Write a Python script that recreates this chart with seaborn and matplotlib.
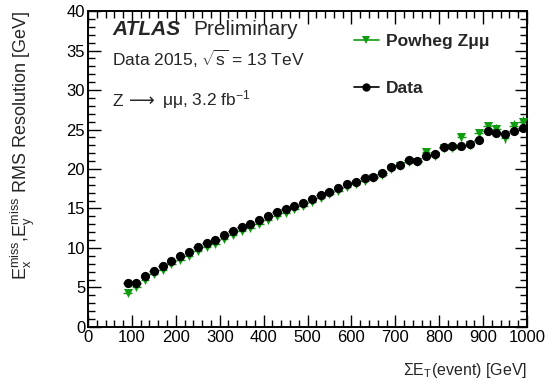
import numpy as np
import pandas as pd
import matplotlib
matplotlib.use("Agg")
import matplotlib.pyplot as plt
from matplotlib.lines import Line2D
from matplotlib.ticker import MultipleLocator
import seaborn as sns

# ---- data ----
sumet = [90, 110, 130, 150, 170, 190, 210, 230, 250, 270, 290, 310, 330, 350, 370,
         390, 410, 430, 450, 470, 490, 510, 530, 550, 570, 590, 610, 630, 650, 670,
         690, 710, 730, 750, 770, 790, 810, 830, 850, 870, 890, 910, 930, 950, 970, 990]
data_res = [5.55, 5.55, 6.45, 7.15, 7.7, 8.4, 9.0, 9.5, 10.1, 10.6, 11.05, 11.6, 12.15,
            12.6, 13.0, 13.5, 14.05, 14.5, 14.9, 15.3, 15.75, 16.25, 16.7, 17.15, 17.55,
            18.1, 18.4, 18.8, 19.05, 19.55, 20.25, 20.5, 21.1, 21.05, 21.7, 21.85, 22.8,
            22.9, 22.9, 23.15, 23.7, 24.75, 24.6, 24.45, 24.85, 25.2]
data_err = [0.15, 0.12, 0.1, 0.1, 0.1, 0.1, 0.1, 0.1, 0.1, 0.1, 0.1, 0.1, 0.1, 0.1, 0.1,
            0.1, 0.1, 0.12, 0.12, 0.12, 0.12, 0.13, 0.13, 0.14, 0.14, 0.15, 0.15, 0.16,
            0.16, 0.17, 0.18, 0.19, 0.2, 0.2, 0.21, 0.22, 0.23, 0.24, 0.25, 0.26, 0.27,
            0.28, 0.29, 0.3, 0.31, 0.32]
mc_res = [4.35, 5.1, 5.9, 6.7, 7.25, 7.95, 8.5, 9.05, 9.6, 10.1, 10.55, 11.1, 11.65,
          12.1, 12.55, 13.05, 13.6, 14.05, 14.45, 14.9, 15.35, 15.85, 16.3, 16.8, 17.2,
          17.75, 18.1, 18.5, 18.8, 19.3, 20.0, 20.4, 20.9, 20.9, 22.1, 21.7, 22.6, 22.7,
          24.1, 23.0, 24.5, 25.4, 25.1, 23.9, 25.5, 26.0]
mc_err = [0.3, 0.25, 0.2, 0.2, 0.2, 0.2, 0.2, 0.2, 0.2, 0.2, 0.2, 0.2, 0.22, 0.22, 0.22,
          0.22, 0.24, 0.24, 0.25, 0.25, 0.26, 0.27, 0.28, 0.29, 0.3, 0.31, 0.32, 0.33,
          0.34, 0.35, 0.36, 0.37, 0.38, 0.4, 0.42, 0.44, 0.46, 0.48, 0.5, 0.52, 0.55,
          0.58, 0.6, 0.62, 0.65, 0.7]
bin_half = 10

GREEN = "#109c10"

sns.set_theme(style="ticks")
plt.rcParams["font.family"] = ["Liberation Sans", "DejaVu Sans"]
plt.rcParams["mathtext.fontset"] = "custom"
plt.rcParams["mathtext.rm"] = "Liberation Sans"
plt.rcParams["mathtext.it"] = "Liberation Sans:italic"
plt.rcParams["mathtext.bf"] = "Liberation Sans:bold"

df = pd.concat([
    pd.DataFrame({"x": sumet, "y": mc_res, "s": "Powheg"}),
    pd.DataFrame({"x": sumet, "y": data_res, "s": "Data"}),
])

fig = plt.figure(figsize=(5.49, 3.89), dpi=100)
ax = fig.add_axes([0.1603, 0.1594, 0.7997, 0.8123])

ax.errorbar(sumet, mc_res, yerr=mc_err, xerr=bin_half, fmt="none",
            ecolor=GREEN, elinewidth=1.0, capsize=0, zorder=2)
sns.scatterplot(data=df[df.s == "Powheg"], x="x", y="y", ax=ax, marker="v",
                color=GREEN, s=42, edgecolor=GREEN, linewidth=0, legend=False, zorder=3)
ax.errorbar(sumet, data_res, yerr=data_err, xerr=bin_half, fmt="none",
            ecolor="black", elinewidth=1.0, capsize=0, zorder=4)
sns.scatterplot(data=df[df.s == "Data"], x="x", y="y", ax=ax, marker="o",
                color="black", s=44, edgecolor="black", linewidth=0, legend=False, zorder=5)

ax.set_xlim(0, 1000)
ax.set_ylim(0, 40)
ax.xaxis.set_major_locator(MultipleLocator(100))
ax.xaxis.set_minor_locator(MultipleLocator(20))
ax.yaxis.set_major_locator(MultipleLocator(5))
ax.yaxis.set_minor_locator(MultipleLocator(1))
ax.tick_params(which="both", direction="in", top=True, right=True, width=1.0,
               labelsize=12, colors="black")
ax.tick_params(which="major", length=9, pad=2)
ax.tick_params(which="minor", length=5)
for sp in ax.spines.values():
    sp.set_linewidth(1.4)
    sp.set_color("black")

ax.set_xlabel(r"ΣE$_{\mathrm{T}}$(event) [GeV]", fontsize=11.5, loc="right", labelpad=12)
ax.set_ylabel(r"E$_{\mathrm{x}}^{\mathrm{miss}}$,E$_{\mathrm{y}}^{\mathrm{miss}}$ RMS Resolution [GeV]",
              fontsize=13, loc="top", labelpad=21)

ax.text(0.055, 0.924, "ATLAS", transform=ax.transAxes, fontsize=15,
        fontweight="bold", fontstyle="italic", va="baseline")
ax.text(0.239, 0.924, "Preliminary", transform=ax.transAxes, fontsize=15, va="baseline")
ax.text(0.055, 0.826, r"Data 2015, $\sqrt{\mathrm{s}}$ = 13 TeV", transform=ax.transAxes,
        fontsize=12.5, va="baseline")
ax.text(0.055, 0.700, "Z", transform=ax.transAxes, fontsize=12.5, va="baseline")
ax.text(0.093, 0.700, "⟶", transform=ax.transAxes, fontsize=13, va="baseline",
        family=["DejaVu Sans"])
ax.text(0.168, 0.700, r"μμ, 3.2 fb$^{\mathrm{-1}}$", transform=ax.transAxes,
        fontsize=12.5, va="baseline")

handles = [
    Line2D([], [], color=GREEN, marker="v", markersize=6, linewidth=1.2, markeredgewidth=0),
    Line2D([], [], color="black", marker="o", markersize=6, linewidth=1.2, markeredgewidth=0),
]
leg = ax.legend(handles, ["Powheg Zμμ", "Data"], loc="upper left",
                bbox_to_anchor=(0.605, 0.928), frameon=False, borderpad=0,
                borderaxespad=0, handlelength=1.45, handletextpad=0.4,
                labelspacing=1.85, prop={"weight": "bold", "size": 12.5})

fig.savefig("out.png", dpi=100)
